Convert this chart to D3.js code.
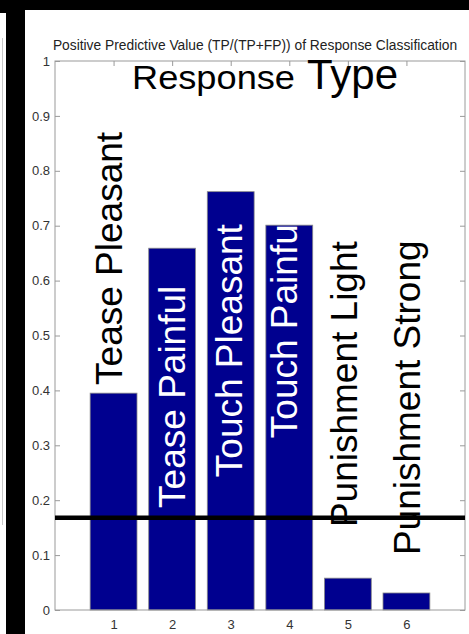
<!DOCTYPE html>
<html>
<head>
<meta charset="utf-8">
<script src="https://cdn.jsdelivr.net/npm/d3@7"></script>
<style>
  html, body { margin: 0; padding: 0; background: #fff; }
  svg { display: block; font-family: "Liberation Sans", Arial, sans-serif; }
</style>
</head>
<body>
<svg id="chart" width="469" height="634"></svg>
<script>
// ---- data ----
const categories = [1, 2, 3, 4, 5, 6];
const responseTypes = ["Tease Pleasant", "Tease Painful", "Touch Pleasant", "Touch Painful", "Punishment Light", "Punishment Strong"];
const ppvValues = [0.395, 0.659, 0.762, 0.701, 0.058, 0.031];
const chanceLevel = 0.168;
const yTickValues = [0, 0.1, 0.2, 0.3, 0.4, 0.5, 0.6, 0.7, 0.8, 0.9, 1];
const yTickLabels = ["0", "0.1", "0.2", "0.3", "0.4", "0.5", "0.6", "0.7", "0.8", "0.9", "1"];
const xTickLabels = ["1", "2", "3", "4", "5", "6"];
const titleText = "Positive Predictive Value (TP/(TP+FP)) of Response Classification";

// annotation anchors (data units: x, y) for the rotated response-type labels
const labelAnchorX = [1.14, 2.22, 3.19, 4.14, 5.15, 6.23];
const labelAnchorY = [0.410, 0.186, 0.242, 0.313, 0.151, 0.100];
const labelInk = ["#000", "#fff", "#fff", "#fff", "#000", "#000"];

// ---- layout ----
const W = 469, H = 634;
const plot = { left: 55, right: 465, top: 61, bottom: 610 };
const svg = d3.select("#chart");

// frame decorations from the screenshot
svg.append("rect").attr("x", 0).attr("y", 0).attr("width", W).attr("height", H).attr("fill", "#fff");
svg.append("rect").attr("x", 0).attr("y", 0).attr("width", W).attr("height", 10).attr("fill", "#000");
svg.append("rect").attr("x", 0).attr("y", 0).attr("width", 6).attr("height", 13).attr("fill", "#000");
svg.append("rect").attr("x", 6).attr("y", 0).attr("width", 19).attr("height", H).attr("fill", "#000");
svg.append("line").attr("x1", 2.5).attr("x2", 2.5).attr("y1", 38).attr("y2", 525)
  .attr("stroke", "#c8c8c8").attr("stroke-width", 1);

const x = d3.scaleLinear().domain([0, 7]).range([plot.left, plot.right]);
const y = d3.scaleLinear().domain([0, 1]).range([plot.bottom, plot.top]);

const axisColor = "#9a9a9a";
const tickTextColor = "#333";

function styleAxis(g, showText) {
  g.select(".domain").remove();
  g.selectAll(".tick line").attr("stroke", axisColor);
  g.selectAll(".tick text")
    .attr("fill", tickTextColor)
    .style("font-size", "13px")
    .style("font-family", "'Liberation Sans', Arial, sans-serif");
  if (!showText) g.selectAll(".tick text").remove();
}

// axes (ticks inside like MATLAB)
svg.append("g").attr("transform", `translate(${plot.left},0)`)
  .call(d3.axisLeft(y).tickValues(yTickValues).tickFormat((d, i) => yTickLabels[i]).tickSizeInner(-5).tickSizeOuter(0).tickPadding(5))
  .call(g => styleAxis(g, true));
svg.append("g").attr("transform", `translate(${plot.right},0)`)
  .call(d3.axisRight(y).tickValues(yTickValues).tickSizeInner(-5).tickSizeOuter(0))
  .call(g => styleAxis(g, false));
svg.append("g").attr("transform", `translate(0,${plot.top})`)
  .call(d3.axisTop(x).tickValues(categories).tickSizeInner(-5).tickSizeOuter(0))
  .call(g => styleAxis(g, false));
svg.append("g").attr("transform", `translate(0,${plot.bottom})`)
  .call(d3.axisBottom(x).tickValues(categories).tickFormat((d, i) => xTickLabels[i]).tickSizeInner(-5).tickSizeOuter(0).tickPadding(10))
  .call(g => styleAxis(g, true));

// bars
const barW = x(0.8) - x(0);
svg.append("g").selectAll("rect")
  .data(categories)
  .join("rect")
  .attr("x", d => x(d) - barW / 2)
  .attr("y", (d, i) => y(ppvValues[i]))
  .attr("width", barW)
  .attr("height", (d, i) => y(0) - y(ppvValues[i]))
  .attr("fill", "#00008f")
  .attr("stroke", "#8a8a8a")
  .attr("stroke-width", 0.8);

// plot box
svg.append("rect")
  .attr("x", plot.left).attr("y", plot.top)
  .attr("width", plot.right - plot.left).attr("height", plot.bottom - plot.top)
  .attr("fill", "none").attr("stroke", axisColor).attr("stroke-width", 1);

// chance line
svg.append("line")
  .attr("x1", x(0)).attr("x2", x(7))
  .attr("y1", y(chanceLevel)).attr("y2", y(chanceLevel))
  .attr("stroke", "#000").attr("stroke-width", 4.5);

// rotated response-type labels
svg.append("g").selectAll("text")
  .data(responseTypes)
  .join("text")
  .attr("transform", (d, i) => `translate(${x(labelAnchorX[i])},${y(labelAnchorY[i])}) rotate(-90)`)
  .attr("text-anchor", "start")
  .attr("fill", (d, i) => labelInk[i])
  .style("font-size", "37px")
  .text(d => d);

// "Response Type" heading inside the axes
svg.append("text").attr("x", 132).attr("y", 89).attr("fill", "#000")
  .style("font-size", "34px")
  .attr("textLength", 163).attr("lengthAdjust", "spacingAndGlyphs").text("Response");
svg.append("text").attr("x", 307).attr("y", 89).attr("fill", "#000")
  .style("font-size", "42px").text("Type");

// title
svg.append("text")
  .attr("x", 255).attr("y", 50)
  .attr("text-anchor", "middle")
  .attr("fill", "#222")
  .style("font-size", "13.8px")
  .text(titleText);
</script>
</body>
</html>
